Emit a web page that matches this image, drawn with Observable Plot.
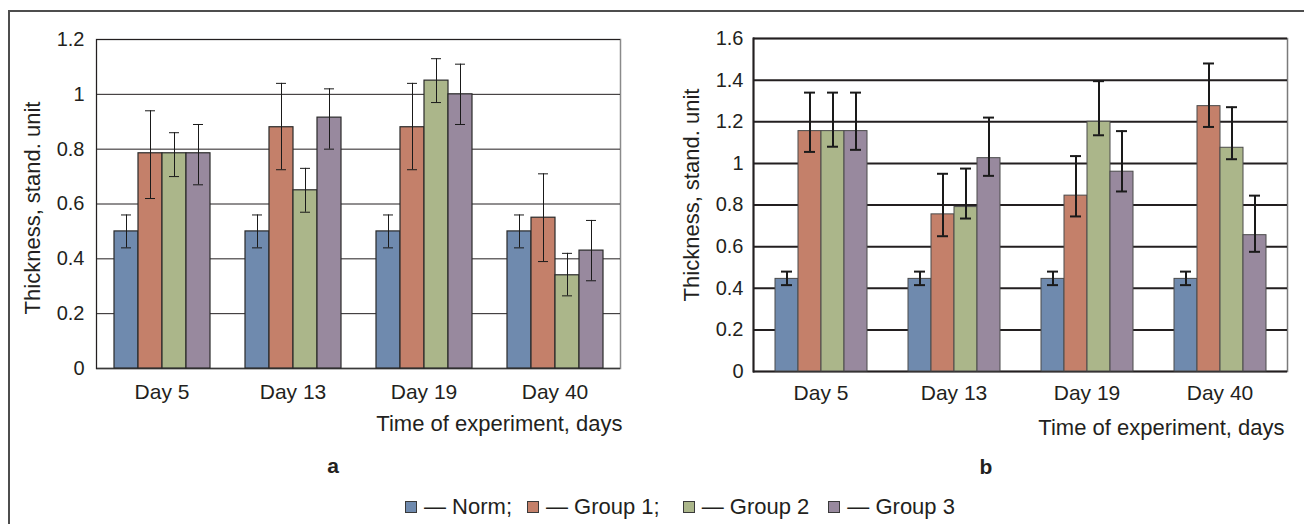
<!DOCTYPE html>
<html>
<head>
<meta charset="utf-8">
<script src="https://cdn.jsdelivr.net/npm/d3@7"></script>
<script src="https://cdn.jsdelivr.net/npm/@observablehq/plot@0.6"></script>
<style>
  body { margin: 0; background: #fff; font-family: "Liberation Sans", Arial, sans-serif; }
  #root { position: relative; width: 1304px; height: 524px; overflow: hidden; background: #fff; }
  #border { position: absolute; left: 8px; top: 10px; width: 1400px; height: 600px;
            border-top: 2px solid #4d4d4d; border-left: 2px solid #4d4d4d; }
  .panel { position: absolute; top: 0; }
  .panel svg { position: absolute; left: 0; top: 0; }
  #panelA { left: 0; width: 640px; height: 450px; }
  #panelB { left: 640px; width: 664px; height: 455px; }
  .tag { position: absolute; font-weight: bold; font-size: 21px; color: #231f20;
         transform: translate(-50%, -50%); line-height: 1; }
  #legend { position: absolute; left: 405px; top: 494px; height: 26px; display: flex; align-items: center;
            font-size: 22px; line-height: 26px; color: #231f20; white-space: nowrap; }
  .item { display: flex; align-items: center; }
  .sw { width: 10px; height: 10px; border: 1px solid #3a3a3a; margin-right: 7px; }
</style>
</head>
<body>
<div id="root">
  <div id="border"></div>
  <div id="panelA" class="panel"></div>
  <div id="panelB" class="panel"></div>
  <div class="tag" style="left:333px;top:465px;">a</div>
  <div class="tag" style="left:986px;top:466px;">b</div>
  <div id="legend"></div>
</div>
<script>
// ---------- shared categories / labels ----------
const days = ["Day 5", "Day 13", "Day 19", "Day 40"];
const groups = ["Norm", "Group 1", "Group 2", "Group 3"];
const legendLabels = ["— Norm;", "— Group 1;", "— Group 2", "— Group 3"];
const colors = ["#6f8aae", "#c4806a", "#abb68a", "#98899e"];
const xTitle = "Time of experiment, days";
const yTitle = "Thickness, stand. unit";
const aTicks = [0, 0.2, 0.4, 0.6, 0.8, 1, 1.2];
const bTicks = [0, 0.2, 0.4, 0.6, 0.8, 1, 1.2, 1.4, 1.6];

// ---------- panel a values (mean, error-bar low, error-bar high) ----------
const aNorm      = [0.50, 0.50, 0.50, 0.50];
const aNormLow   = [0.44, 0.44, 0.44, 0.44];
const aNormHigh  = [0.56, 0.56, 0.56, 0.56];
const aG1        = [0.785, 0.88, 0.88, 0.55];
const aG1Low     = [0.62, 0.725, 0.725, 0.39];
const aG1High    = [0.94, 1.04, 1.04, 0.71];
const aG2        = [0.785, 0.65, 1.05, 0.34];
const aG2Low     = [0.70, 0.57, 0.97, 0.265];
const aG2High    = [0.86, 0.73, 1.13, 0.42];
const aG3        = [0.785, 0.915, 1.00, 0.43];
const aG3Low     = [0.67, 0.80, 0.89, 0.32];
const aG3High    = [0.89, 1.02, 1.11, 0.54];

// ---------- panel b values ----------
const bNorm      = [0.445, 0.445, 0.445, 0.445];
const bNormLow   = [0.415, 0.415, 0.415, 0.415];
const bNormHigh  = [0.48, 0.48, 0.48, 0.48];
const bG1        = [1.155, 0.755, 0.845, 1.275];
const bG1Low     = [1.055, 0.65, 0.745, 1.175];
const bG1High    = [1.34, 0.95, 1.035, 1.48];
const bG2        = [1.155, 0.79, 1.20, 1.075];
const bG2Low     = [1.08, 0.735, 1.135, 1.02];
const bG2High    = [1.34, 0.975, 1.395, 1.27];
const bG3        = [1.155, 1.025, 0.96, 0.655];
const bG3Low     = [1.065, 0.94, 0.865, 0.575];
const bG3High    = [1.34, 1.22, 1.155, 0.845];

function rows(vals, lows, highs) {
  return groups.flatMap((g, gi) => days.map((d, di) => ({
    day: d, group: g, value: vals[gi][di], lo: lows[gi][di], hi: highs[gi][di]
  })));
}
const aData = rows([aNorm, aG1, aG2, aG3], [aNormLow, aG1Low, aG2Low, aG3Low], [aNormHigh, aG1High, aG2High, aG3High]);
const bData = rows([bNorm, bG1, bG2, bG3], [bNormLow, bG1Low, bG2Low, bG3Low], [bNormHigh, bG1High, bG2High, bG3High]);

const ink = "#231f20";
const font = "'Liberation Sans', Arial, sans-serif";

// Background layer: frame, grid lines, y tick labels, axis titles (one shared frame)
function background(o) {
  return Plot.plot({
    width: o.width, height: o.height,
    marginLeft: o.ml, marginRight: o.mr, marginTop: o.mt, marginBottom: o.mb,
    style: { fontFamily: font, fontSize: "21px", color: ink, background: "transparent", overflow: "visible" },
    x: { axis: null },
    y: { domain: [0, o.ticks[o.ticks.length - 1]], axis: null },
    marks: [
      Plot.frame({ stroke: o.rightStroke, strokeWidth: 1.5 }),
      Plot.ruleY(o.ticks.slice(1), { stroke: ink, strokeWidth: o.grid }),
      Plot.ruleY([0], { stroke: o.baseStroke, strokeWidth: o.baseWidth }),
      Plot.frame({ anchor: "left", stroke: ink, strokeWidth: o.grid }),
      Plot.text(o.ticks, { y: d => d, text: d => String(d), frameAnchor: "left", textAnchor: "end", dx: -o.tickPad, fontSize: 20, fill: ink }),
      Plot.text([yTitle], { text: d => d, frameAnchor: "left", textAnchor: "middle", rotate: -90, dx: o.ytDx, dy: o.ytDy, fontSize: 22, fill: ink }),
      Plot.text([xTitle], { text: d => d, frameAnchor: "bottom-right", textAnchor: "end", dx: o.xtDx, dy: o.xtDy, fontSize: 22, fill: ink })
    ]
  });
}

// Foreground layer: grouped bars with error bars, faceted by day
function bars(o) {
  return Plot.plot({
    width: o.width, height: o.height,
    marginLeft: o.ml, marginRight: o.mr, marginTop: o.mt, marginBottom: o.mb,
    style: { fontFamily: font, fontSize: "21px", color: ink, background: "transparent", overflow: "visible" },
    fx: { domain: days, paddingInner: o.padIn, paddingOuter: o.padOut, label: null, axis: "bottom", tickSize: 0, tickPadding: o.fxPad },
    x: { domain: groups, padding: 0, axis: null },
    y: { domain: [0, o.ticks[o.ticks.length - 1]], axis: null },
    color: { domain: groups, range: colors },
    marks: [
      Plot.barY(o.data, { fx: "day", x: "group", y: "value", fill: "group", stroke: o.barStroke, strokeWidth: o.barWidth }),
      Plot.ruleX(o.data, { fx: "day", x: "group", y1: "lo", y2: "hi", stroke: "#1a1a1a", strokeWidth: o.err }),
      Plot.tickY(o.data, { fx: "day", x: "group", y: "lo", insetLeft: o.cap, insetRight: o.cap, stroke: "#1a1a1a", strokeWidth: o.err }),
      Plot.tickY(o.data, { fx: "day", x: "group", y: "hi", insetLeft: o.cap, insetRight: o.cap, stroke: "#1a1a1a", strokeWidth: o.err })
    ]
  });
}

const optsA = {
  data: aData, ticks: aTicks,
  width: 640, height: 450, ml: 96, mr: 20, mt: 39, mb: 82,
  padIn: 0.26, padOut: 0.13, fxPad: 16, tickPad: 12,
  grid: 1, baseStroke: "#3a3a3a", baseWidth: 1.5, rightStroke: "#8a8a8a",
  barStroke: "#2a2a2a", barWidth: 1.2, err: 1, cap: 7,
  ytDx: -64, ytDy: 4, xtDx: 2, xtDy: 62
};
const optsB = {
  data: bData, ticks: bTicks,
  width: 664, height: 455, ml: 113, mr: 17, mt: 38, mb: 84,
  padIn: 0.288, padOut: 0.144, fxPad: 14, tickPad: 10,
  grid: 2, baseStroke: ink, baseWidth: 2, rightStroke: "#7a7a7a",
  barStroke: "#4a4a4a", barWidth: 1, err: 2, cap: 6,
  ytDx: -62, ytDy: -10, xtDx: -3, xtDy: 63
};

document.getElementById("panelA").append(background(optsA), bars(optsA));
document.getElementById("panelB").append(background(optsB), bars(optsB));

const legend = document.getElementById("legend");
const legendGaps = [15, 23, 19, 0];
groups.forEach((g, i) => {
  const item = document.createElement("div");
  item.className = "item";
  item.style.marginRight = legendGaps[i] + "px";
  const sw = document.createElement("div");
  sw.className = "sw";
  sw.style.background = colors[i];
  const t = document.createElement("span");
  t.textContent = legendLabels[i];
  item.append(sw, t);
  legend.append(item);
});
</script>
</body>
</html>
